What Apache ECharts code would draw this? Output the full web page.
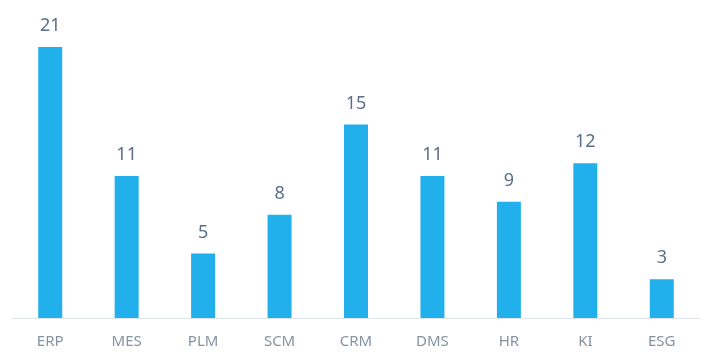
<!DOCTYPE html>
<html><head><meta charset="utf-8">
<script src="https://cdn.jsdelivr.net/npm/echarts@6/dist/echarts.min.js"></script>
<style>html,body{margin:0;padding:0;background:#fff}#c{width:710px;height:358px}</style>
</head><body><div id="c"></div>
<script>
const categories = ['ERP','MES','PLM','SCM','CRM','DMS','HR','KI','ESG'];
const values = [21, 11, 5, 8, 15, 11, 9, 12, 3];
const chart = echarts.init(document.getElementById('c'));
chart.setOption({
  animation: false,
  grid: {left: 12, right: 10, top: 47, bottom: 40, containLabel: false},
  xAxis: {
    type: 'category', data: categories,
    axisLine: {lineStyle: {color: '#dfe5ea', width: 1}},
    axisTick: {show: false},
    axisLabel: {color: '#8593a3', fontSize: 15, margin: 16, fontFamily: 'Noto Sans'}
  },
  yAxis: {type: 'value', min: 0, max: 21, show: false, splitLine: {show: false}},
  series: [{
    type: 'bar', data: values, barWidth: 24,
    itemStyle: {color: '#22b0ec'},
    label: {show: true, position: 'top', distance: 12, color: '#5b6f8c', fontSize: 18, fontFamily: 'Noto Sans'}
  }]
});
</script></body></html>
